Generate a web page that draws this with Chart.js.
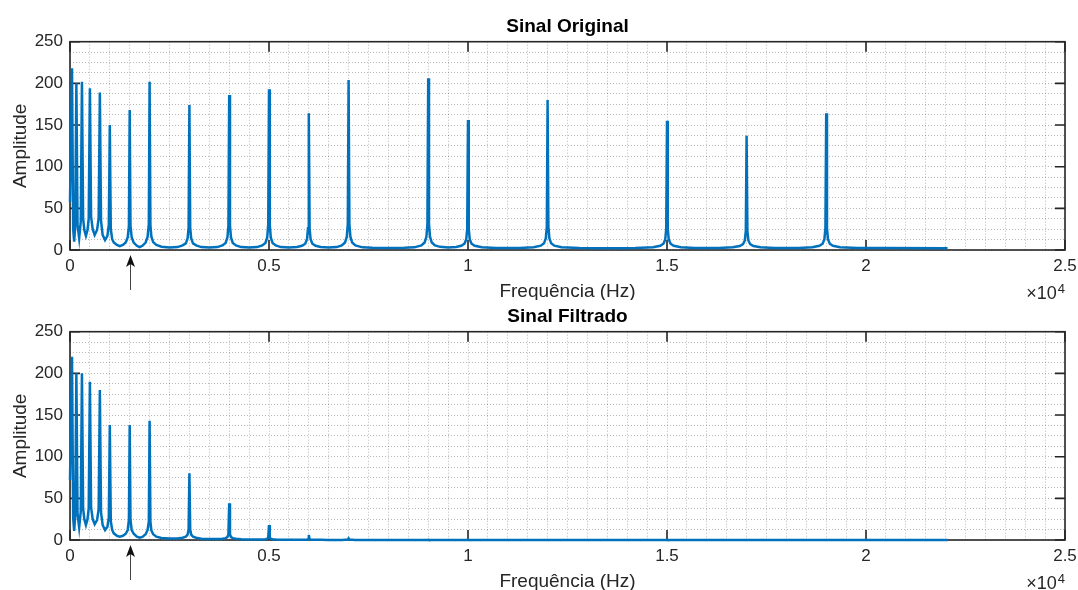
<!DOCTYPE html>
<html>
<head>
<meta charset="utf-8">
<script src="https://cdn.jsdelivr.net/npm/chart.js@4.4.1/dist/chart.umd.min.js"></script>
<style>
  html, body { margin: 0; padding: 0; background: #fff; overflow: hidden; }
  #wrap { position: relative; width: 1078px; height: 590px; }
  canvas { position: absolute; left: 0; }
  #topChart { top: 0; }
  #bottomChart { top: 290px; }
</style>
</head>
<body>
<div id="wrap">
  <canvas id="topChart" width="1078" height="300"></canvas>
  <canvas id="bottomChart" width="1078" height="300"></canvas>
</div>
<script>
// frequency samples (Hz), one row per group of peaks
const freqHz = [
  0, 50, 80, 105, 130, 160, 190, 230, 270, 300,
  330, 360, 400, 440, 470, 500, 530, 570, 620, 680,
  720, 750, 780, 820, 880, 940, 975, 1000, 1025, 1060,
  1100, 1180, 1250, 1330, 1400, 1450, 1480, 1500, 1520, 1550,
  1600, 1680, 1750, 1820, 1900, 1950, 1980, 2000, 2020, 2045,
  2090, 2170, 2300, 2500, 2700,
  2830, 2910, 2955, 2980, 3000, 3020, 3045, 3090, 3170, 3300, 3500, 3700,
  3830, 3910, 3955, 3980, 4000, 4020, 4045, 4090, 4170, 4300, 4500, 4700,
  4830, 4910, 4955, 4980, 5000, 5020, 5045, 5090, 5170, 5300, 5500, 5700,
  5830, 5910, 5955, 5980, 6000, 6020, 6045, 6090, 6170, 6300, 6500, 6700,
  6830, 6910, 6955, 6980, 7000, 7020, 7045, 7090, 7170, 7350, 7600, 8000, 8400, 8650,
  8830, 8910, 8955, 8980, 9000, 9020, 9045, 9090, 9170, 9300, 9500, 9700,
  9830, 9910, 9955, 9980, 10000, 10020, 10045, 10090, 10170, 10350, 10700, 11000, 11300, 11650,
  11830, 11910, 11955, 11980, 12000, 12020, 12045, 12090, 12170, 12350, 12800, 13500, 14200, 14650,
  14830, 14910, 14955, 14980, 15000, 15020, 15045, 15090, 15170, 15350, 15700, 16000, 16300, 16650,
  16830, 16910, 16955, 16980, 17000, 17020, 17045, 17090, 17170, 17350, 17700, 18000, 18300, 18650,
  18830, 18910, 18955, 18980, 19000, 19020, 19045, 19090, 19170, 19350, 19800, 20500, 22050
];

const ampOriginal = [
  58, 218, 25, 10, 28, 200, 30, 14, 34, 202,
  38, 24, 17, 24, 38, 194, 40, 25, 18, 24,
  38, 189, 35, 18, 12, 17, 30, 150, 25, 13,
  9, 6, 4.5, 6, 9, 15, 29, 168, 29, 15,
  9, 5, 3.5, 5, 9, 16, 31, 202, 30, 16,
  9.5, 6, 4, 3, 3.5,
  5.5, 8, 14, 27, 174, 27, 14, 8, 5.5, 3.5, 3, 3.5,
  5.5, 8.5, 15, 29, 186, 29, 15, 8.5, 5.5, 3.5, 3, 3.5,
  5.5, 8.5, 15, 30, 193, 30, 15, 8.5, 5.5, 3.5, 3, 3.5,
  5, 7.5, 13, 26, 164, 26, 13, 7.5, 5, 3.5, 3, 3.5,
  5.5, 9, 16, 31, 204, 31, 16, 9, 5.5, 3.2, 2.6, 2.3, 2.6, 3.2,
  5.5, 9, 16, 31, 206, 31, 16, 9, 5.5, 3.8, 3, 3.5,
  5, 7.5, 12.5, 25, 156, 25, 12.5, 7.5, 5, 3.2, 2.5, 2.3, 2.5, 3.2,
  5.2, 8, 14, 28, 180, 28, 14, 8, 5.2, 3.2, 2.4, 2.2, 2.4, 3.2,
  5, 7.5, 12.5, 25, 155, 25, 12.5, 7.5, 5, 3.2, 2.5, 2.3, 2.5, 3.2,
  4.8, 7, 11.5, 22.5, 137, 22.5, 11.5, 7, 4.8, 3.2, 2.5, 2.3, 2.5, 3.2,
  5, 7.5, 13, 26, 164, 26, 13, 7.5, 5, 3.2, 2.5, 2.3, 2.2
];

const ampFiltrado = [
  72, 220, 26, 11, 29, 200, 31, 15, 34, 200,
  38, 25, 18, 25, 38, 190, 39, 25, 19, 24,
  37, 180, 33, 18, 12, 16, 27, 138, 23, 12,
  8, 5, 4, 5, 7.5, 12, 24, 138, 24, 12,
  7.5, 4, 2.8, 3.8, 7, 12, 22, 143, 22, 11.5,
  7, 4, 2.5, 1.8, 1.8,
  2.7, 4, 6.5, 12.5, 80, 12.5, 6.5, 4, 2.7, 1.6, 1.1, 1.1,
  1.6, 2.2, 3.5, 6.5, 44, 6.5, 3.5, 2.2, 1.5, 0.9, 0.6, 0.5,
  0.7, 1, 1.5, 2.8, 18, 2.8, 1.5, 1, 0.6, 0.4, 0.3, 0.2,
  0.3, 0.4, 0.6, 1, 6, 1, 0.6, 0.4, 0.3, 0.2, 0.1, 0.1,
  0.1, 0.2, 0.3, 0.4, 2, 0.4, 0.3, 0.2, 0.1, 0, 0, 0, 0, 0,
  0, 0, 0, 0, 0.3, 0, 0, 0, 0, 0, 0, 0,
  0, 0, 0, 0, 0.2, 0, 0, 0, 0, 0, 0, 0, 0, 0,
  0, 0, 0, 0, 0.1, 0, 0, 0, 0, 0, 0, 0, 0, 0,
  0, 0, 0, 0, 0.1, 0, 0, 0, 0, 0, 0, 0, 0, 0,
  0, 0, 0, 0, 0, 0, 0, 0, 0, 0, 0, 0, 0, 0,
  0, 0, 0, 0, 0, 0, 0, 0, 0, 0, 0, 0, 0
];

const xMajorTicks = [0, 5000, 10000, 15000, 20000, 25000];
const xTickLabels = ['0', '0.5', '1', '1.5', '2', '2.5'];
const yMajorTicks = [0, 50, 100, 150, 200, 250];
const arrowFreq = 1500;

const ink = '#262626';
const fontFamily = '"Liberation Sans", Arial, Helvetica, sans-serif';

const framePlugin = {
  id: 'frame',
  beforeDatasetsDraw(chart) {
    const { ctx, chartArea: a, scales: { x, y } } = chart;
    ctx.save();
    ctx.strokeStyle = ink;
    ctx.lineWidth = 1.6;
    ctx.strokeRect(a.left, a.top, a.right - a.left, a.bottom - a.top);
    ctx.beginPath();
    xMajorTicks.forEach((v) => {
      const px = x.getPixelForValue(v);
      ctx.moveTo(px, a.bottom); ctx.lineTo(px, a.bottom - 10);
      ctx.moveTo(px, a.top); ctx.lineTo(px, a.top + 10);
    });
    yMajorTicks.forEach((v) => {
      const py = y.getPixelForValue(v);
      ctx.moveTo(a.left, py); ctx.lineTo(a.left + 10, py);
      ctx.moveTo(a.right, py); ctx.lineTo(a.right - 10, py);
    });
    ctx.stroke();
    ctx.restore();
  },
  afterDraw(chart) {
    const { ctx, chartArea: a, scales: { x } } = chart;
    ctx.save();
    // arrow under the axis
    const px = Math.round(x.getPixelForValue(arrowFreq)) + 0.5;
    ctx.strokeStyle = '#444';
    ctx.lineWidth = 1;
    ctx.beginPath();
    ctx.moveTo(px, a.bottom + 40);
    ctx.lineTo(px, a.bottom + 12);
    ctx.stroke();
    ctx.fillStyle = '#111';
    ctx.beginPath();
    ctx.moveTo(px, a.bottom + 5);
    ctx.lineTo(px - 4.5, a.bottom + 17);
    ctx.lineTo(px, a.bottom + 14);
    ctx.lineTo(px + 4.5, a.bottom + 17);
    ctx.closePath();
    ctx.fill();
    // x10^4 multiplier
    ctx.fillStyle = ink;
    ctx.textBaseline = 'alphabetic';
    ctx.textAlign = 'right';
    ctx.font = '13px ' + fontFamily;
    ctx.fillText('4', a.right, a.bottom + 43);
    const w4 = ctx.measureText('4').width;
    ctx.font = '18px ' + fontFamily;
    ctx.fillText('\u00d710', a.right - w4 - 1, a.bottom + 49);
    ctx.restore();
  }
};

const makeChart = (id, title, values) => new Chart(document.getElementById(id), {
  type: 'line',
  data: {
    datasets: [{
      data: freqHz.map((f, i) => ({ x: f, y: values[i] })),
      borderColor: '#0072BD',
      borderWidth: 2.5,
      pointRadius: 0,
      tension: 0,
      fill: false,
      clip: false
    }]
  },
  options: {
    responsive: false,
    animation: false,
    events: [],
    layout: { padding: { left: 0, right: 13, top: 0, bottom: 0 } },
    plugins: {
      legend: { display: false },
      tooltip: { enabled: false },
      title: {
        display: true,
        text: title,
        fullSize: false,
        color: '#000',
        font: { family: fontFamily, size: 19, weight: 'bold', lineHeight: 1.2 },
        padding: { top: 15.6, bottom: 3.3 }
      }
    },
    scales: {
      x: {
        type: 'linear',
        min: 0,
        max: 25000,
        afterFit(scale) {
          scale.height = 50;
          scale.paddingLeft = 0;
          scale.paddingRight = 0;
        },
        border: { display: false, dash: [1, 2] },
        grid: { color: 'rgba(0,0,0,0.28)', lineWidth: 1, drawTicks: false },
        ticks: {
          stepSize: 500,
          maxTicksLimit: 100,
          autoSkip: false,
          maxRotation: 0,
          padding: 6,
          color: ink,
          font: { family: fontFamily, size: 17 },
          callback: (v) => {
            const k = xMajorTicks.indexOf(v);
            return k >= 0 ? xTickLabels[k] : '';
          }
        },
        title: {
          display: true,
          text: 'Frequência (Hz)',
          color: ink,
          font: { family: fontFamily, size: 19, lineHeight: 1.2 },
          padding: { top: 0, bottom: -3 }
        }
      },
      y: {
        min: 0,
        max: 250,
        afterFit(scale) { scale.width = 70; },
        border: { display: false, dash: [1, 2] },
        grid: { color: 'rgba(0,0,0,0.28)', lineWidth: 1, drawTicks: false },
        ticks: {
          stepSize: 12.5,
          maxTicksLimit: 100,
          autoSkip: false,
          padding: 7,
          color: ink,
          font: { family: fontFamily, size: 17 },
          callback: (v) => (yMajorTicks.includes(v) ? String(v) : '')
        },
        title: {
          display: true,
          text: 'Amplitude',
          color: ink,
          font: { family: fontFamily, size: 19, lineHeight: 1.2 },
          padding: { top: 9.6, bottom: 0 }
        }
      }
    }
  },
  plugins: [framePlugin]
});

makeChart('topChart', 'Sinal Original', ampOriginal);
makeChart('bottomChart', 'Sinal Filtrado', ampFiltrado);
</script>
</body>
</html>
